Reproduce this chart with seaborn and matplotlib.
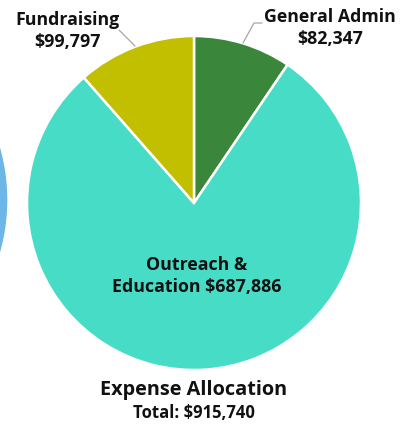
import matplotlib
matplotlib.use("Agg")
import matplotlib.pyplot as plt
import seaborn as sns

# expense data
categories = ["General Admin", "Outreach &\nEducation", "Fundraising"]
amounts = [82347, 687886, 99797]
slice_colors = ["#3A873B", "#47DCC6", "#C2BF00"]
total_label = 915740  # as printed on the source chart

# neighbouring chart, only a sliver shows on the left edge
neighbour_values = [1]
neighbour_colors = ["#6DB6E8"]

W, H = 412, 425


def py(y):
    # pixel row (from top) -> data y (from bottom)
    return H - y


sns.set_theme(style="white")
plt.rcParams["font.family"] = ["Open Sans", "DejaVu Sans"]

fig = plt.figure(figsize=(W / 100, H / 100), dpi=100)
ax = fig.add_axes([0, 0, 1, 1])

ax.pie(neighbour_values, colors=neighbour_colors, center=(-185, py(200)),
       radius=193, startangle=90)

ax.pie(amounts, colors=slice_colors, center=(194, py(203)), radius=167,
       startangle=90, counterclock=False,
       wedgeprops=dict(edgecolor="white", linewidth=1.8))

ax.set_xlim(0, W)
ax.set_ylim(0, H)
ax.set_aspect("equal")
ax.axis("off")

lbl = dict(fontsize=12.8, fontweight="bold", color="#111111", ha="center",
           va="center", linespacing=1.32)

# outside labels with leader lines
ax.text(68, py(31), f"Fundraising\n${amounts[2]:,}", **lbl)
ax.plot([119, 135], [py(30), py(46)], color="#A6A6A6", lw=0.9)

ax.text(330, py(28), f"General Admin\n${amounts[0]:,}", **lbl)
ax.plot([262, 254, 243], [py(23), py(23), py(43)], color="#A6A6A6", lw=0.9)

ax.text(197, py(276), f"Outreach &\nEducation ${amounts[1]:,}", **lbl)

ax.text(194, py(390), "Expense Allocation", fontsize=14.3, fontweight="bold",
        color="#111111", ha="center", va="center")
ax.text(194, py(413), f"Total: ${total_label:,}", fontsize=12,
        fontweight="bold", color="#111111", ha="center", va="center")

fig.savefig("out.png", dpi=100)
